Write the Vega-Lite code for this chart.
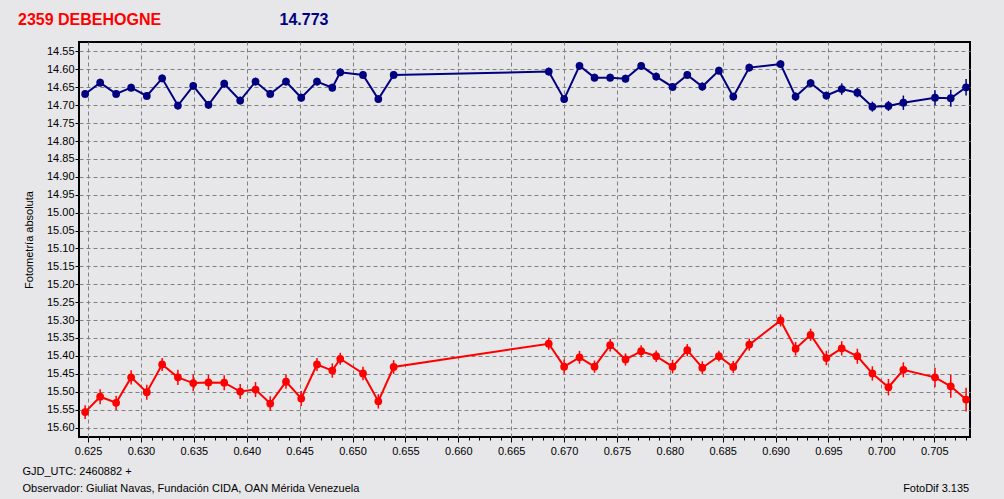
{
  "$schema": "https://vega.github.io/schema/vega-lite/v6.json",
  "width": 891,
  "height": 395,
  "autosize": {"type": "none"},
  "padding": {"left": 79, "top": 42, "right": 34, "bottom": 62},
  "background": "#e7e7e9",
  "config": {
    "view": {"fill": "#e7e7e9", "stroke": "#000000", "strokeWidth": 2},
    "font": "Liberation Sans"
  },
  "title": {
    "text": "2359 DEBEHOGNE",
    "anchor": "start",
    "frame": "group",
    "dx": -61,
    "dy": 16.5,
    "color": "#ff0000",
    "font": "Liberation Sans",
    "fontSize": 16,
    "fontWeight": "bold",
    "offset": 0
  },
  "data": {
    "values": [
      {"t": 0.62472, "m": 14.6685, "e": 0.011, "s": "V"},
      {"t": 0.62614, "m": 14.637, "e": 0.011, "s": "V"},
      {"t": 0.62765, "m": 14.6685, "e": 0.011, "s": "V"},
      {"t": 0.62907, "m": 14.651, "e": 0.011, "s": "V"},
      {"t": 0.63055, "m": 14.674, "e": 0.011, "s": "V"},
      {"t": 0.632, "m": 14.625, "e": 0.011, "s": "V"},
      {"t": 0.63349, "m": 14.701, "e": 0.011, "s": "V"},
      {"t": 0.63494, "m": 14.646, "e": 0.011, "s": "V"},
      {"t": 0.63638, "m": 14.699, "e": 0.011, "s": "V"},
      {"t": 0.63787, "m": 14.64, "e": 0.011, "s": "V"},
      {"t": 0.63938, "m": 14.687, "e": 0.011, "s": "V"},
      {"t": 0.64083, "m": 14.634, "e": 0.011, "s": "V"},
      {"t": 0.64222, "m": 14.6685, "e": 0.011, "s": "V"},
      {"t": 0.64371, "m": 14.634, "e": 0.011, "s": "V"},
      {"t": 0.64515, "m": 14.679, "e": 0.011, "s": "V"},
      {"t": 0.64664, "m": 14.634, "e": 0.011, "s": "V"},
      {"t": 0.64809, "m": 14.651, "e": 0.011, "s": "V"},
      {"t": 0.64884, "m": 14.608, "e": 0.011, "s": "V"},
      {"t": 0.65099, "m": 14.6155, "e": 0.011, "s": "V"},
      {"t": 0.65244, "m": 14.683, "e": 0.011, "s": "V"},
      {"t": 0.65389, "m": 14.6155, "e": 0.011, "s": "V"},
      {"t": 0.66855, "m": 14.606, "e": 0.011, "s": "V"},
      {"t": 0.67001, "m": 14.683, "e": 0.011, "s": "V"},
      {"t": 0.67146, "m": 14.59, "e": 0.011, "s": "V"},
      {"t": 0.67288, "m": 14.623, "e": 0.011, "s": "V"},
      {"t": 0.67436, "m": 14.623, "e": 0.011, "s": "V"},
      {"t": 0.67581, "m": 14.626, "e": 0.011, "s": "V"},
      {"t": 0.67729, "m": 14.59, "e": 0.011, "s": "V"},
      {"t": 0.67871, "m": 14.62, "e": 0.011, "s": "V"},
      {"t": 0.68026, "m": 14.649, "e": 0.011, "s": "V"},
      {"t": 0.68165, "m": 14.6155, "e": 0.011, "s": "V"},
      {"t": 0.68307, "m": 14.648, "e": 0.012, "s": "V"},
      {"t": 0.68464, "m": 14.6035, "e": 0.011, "s": "V"},
      {"t": 0.686, "m": 14.676, "e": 0.011, "s": "V"},
      {"t": 0.68751, "m": 14.595, "e": 0.011, "s": "V"},
      {"t": 0.69047, "m": 14.585, "e": 0.011, "s": "V"},
      {"t": 0.69189, "m": 14.676, "e": 0.012, "s": "V"},
      {"t": 0.69331, "m": 14.638, "e": 0.011, "s": "V"},
      {"t": 0.6948, "m": 14.673, "e": 0.011, "s": "V"},
      {"t": 0.69625, "m": 14.655, "e": 0.016, "s": "V"},
      {"t": 0.69773, "m": 14.665, "e": 0.013, "s": "V"},
      {"t": 0.69915, "m": 14.704, "e": 0.014, "s": "V"},
      {"t": 0.70067, "m": 14.702, "e": 0.014, "s": "V"},
      {"t": 0.70208, "m": 14.693, "e": 0.02, "s": "V"},
      {"t": 0.70507, "m": 14.679, "e": 0.021, "s": "V"},
      {"t": 0.70656, "m": 14.6805, "e": 0.024, "s": "V"},
      {"t": 0.70801, "m": 14.65, "e": 0.023, "s": "V"},
      {"t": 0.62472, "m": 15.557, "e": 0.019, "s": "C"},
      {"t": 0.62614, "m": 15.514, "e": 0.021, "s": "C"},
      {"t": 0.62765, "m": 15.531, "e": 0.02, "s": "C"},
      {"t": 0.62907, "m": 15.46, "e": 0.02, "s": "C"},
      {"t": 0.63055, "m": 15.5015, "e": 0.021, "s": "C"},
      {"t": 0.632, "m": 15.424, "e": 0.018, "s": "C"},
      {"t": 0.63349, "m": 15.46, "e": 0.021, "s": "C"},
      {"t": 0.63494, "m": 15.476, "e": 0.023, "s": "C"},
      {"t": 0.63638, "m": 15.474, "e": 0.021, "s": "C"},
      {"t": 0.63787, "m": 15.475, "e": 0.021, "s": "C"},
      {"t": 0.63938, "m": 15.4995, "e": 0.021, "s": "C"},
      {"t": 0.64083, "m": 15.494, "e": 0.021, "s": "C"},
      {"t": 0.64222, "m": 15.533, "e": 0.02, "s": "C"},
      {"t": 0.64371, "m": 15.472, "e": 0.02, "s": "C"},
      {"t": 0.64515, "m": 15.519, "e": 0.021, "s": "C"},
      {"t": 0.64664, "m": 15.424, "e": 0.018, "s": "C"},
      {"t": 0.64809, "m": 15.441, "e": 0.02, "s": "C"},
      {"t": 0.64884, "m": 15.408, "e": 0.017, "s": "C"},
      {"t": 0.65099, "m": 15.449, "e": 0.019, "s": "C"},
      {"t": 0.65244, "m": 15.527, "e": 0.02, "s": "C"},
      {"t": 0.65389, "m": 15.431, "e": 0.019, "s": "C"},
      {"t": 0.66855, "m": 15.366, "e": 0.017, "s": "C"},
      {"t": 0.67001, "m": 15.43, "e": 0.02, "s": "C"},
      {"t": 0.67146, "m": 15.404, "e": 0.018, "s": "C"},
      {"t": 0.67288, "m": 15.43, "e": 0.017, "s": "C"},
      {"t": 0.67436, "m": 15.37, "e": 0.018, "s": "C"},
      {"t": 0.67581, "m": 15.41, "e": 0.017, "s": "C"},
      {"t": 0.67729, "m": 15.387, "e": 0.017, "s": "C"},
      {"t": 0.67871, "m": 15.401, "e": 0.016, "s": "C"},
      {"t": 0.68026, "m": 15.43, "e": 0.019, "s": "C"},
      {"t": 0.68165, "m": 15.384, "e": 0.017, "s": "C"},
      {"t": 0.68307, "m": 15.433, "e": 0.018, "s": "C"},
      {"t": 0.68464, "m": 15.401, "e": 0.015, "s": "C"},
      {"t": 0.686, "m": 15.431, "e": 0.017, "s": "C"},
      {"t": 0.68751, "m": 15.3685, "e": 0.017, "s": "C"},
      {"t": 0.69047, "m": 15.301, "e": 0.017, "s": "C"},
      {"t": 0.69189, "m": 15.38, "e": 0.019, "s": "C"},
      {"t": 0.69331, "m": 15.341, "e": 0.017, "s": "C"},
      {"t": 0.6948, "m": 15.406, "e": 0.02, "s": "C"},
      {"t": 0.69625, "m": 15.379, "e": 0.02, "s": "C"},
      {"t": 0.69773, "m": 15.401, "e": 0.021, "s": "C"},
      {"t": 0.69915, "m": 15.449, "e": 0.02, "s": "C"},
      {"t": 0.70067, "m": 15.4875, "e": 0.023, "s": "C"},
      {"t": 0.70208, "m": 15.439, "e": 0.021, "s": "C"},
      {"t": 0.70507, "m": 15.46, "e": 0.027, "s": "C"},
      {"t": 0.70656, "m": 15.485, "e": 0.032, "s": "C"},
      {"t": 0.70801, "m": 15.522, "e": 0.033, "s": "C"}
    ]
  },
  "resolve": {"axis": {"x": "independent", "y": "independent"}},
  "layer": [
    {
      "encoding": {
        "x": {
          "field": "t",
          "type": "quantitative",
          "scale": {"domain": [0.62414, 0.70838], "nice": false, "zero": false},
          "axis": {
            "orient": "bottom",
            "values": [0.625,0.626,0.627,0.628,0.629,0.63,0.631,0.632,0.633,0.634,0.635,0.636,0.637,0.638,0.639,0.64,0.641,0.642,0.643,0.644,0.645,0.646,0.647,0.648,0.649,0.65,0.651,0.652,0.653,0.654,0.655,0.656,0.657,0.658,0.659,0.66,0.661,0.662,0.663,0.664,0.665,0.666,0.667,0.668,0.669,0.67,0.671,0.672,0.673,0.674,0.675,0.676,0.677,0.678,0.679,0.68,0.681,0.682,0.683,0.684,0.685,0.686,0.687,0.688,0.689,0.69,0.691,0.692,0.693,0.694,0.695,0.696,0.697,0.698,0.699,0.7,0.701,0.702,0.703,0.704,0.705,0.706,0.707,0.708],
            "labelExpr": "round(datum.value*1000) % 5 == 0 ? format(datum.value, '.3f') : ''",
            "labelOverlap": false,
            "labelFlush": false,
            "labelFont": "Liberation Sans",
            "labelFontSize": 11,
            "labelColor": "#000000",
            "labelPadding": 3,
            "tickColor": "#000000",
            "tickWidth": 1,
            "tickSize": {"condition": {"test": "round(datum.value*1000) % 5 == 0", "value": 5}, "value": 3},
            "grid": true,
            "gridColor": "#808080",
            "gridDash": [4, 3],
            "gridWidth": 1,
            "gridOpacity": {"condition": {"test": "round(datum.value*1000) % 5 == 0", "value": 1}, "value": 0},
            "domain": false,
            "title": ["GJD_UTC: 2460882 +", "Observador: Giuliat Navas, Fundación CIDA, OAN Mérida Venezuela"],
            "titleX": -57,
            "titleY": 37,
            "titleAlign": "left",
            "titleAnchor": "start",
            "titleBaseline": "alphabetic",
            "titleAngle": 0,
            "titleFont": "Liberation Sans",
            "titleFontSize": 11,
            "titleFontWeight": "normal",
            "titleColor": "#000000",
            "titleLineHeight": 17.5
          }
        },
        "y": {
          "field": "m",
          "type": "quantitative",
          "scale": {"domain": [14.5235, 15.6265], "reverse": true, "nice": false, "zero": false},
          "axis": {
            "orient": "left",
            "values": [14.55,14.6,14.65,14.7,14.75,14.8,14.85,14.9,14.95,15.0,15.05,15.1,15.15,15.2,15.25,15.3,15.35,15.4,15.45,15.5,15.55,15.6],
            "format": ".2f",
            "labelOverlap": false,
            "labelFlush": false,
            "labelFont": "Liberation Sans",
            "labelFontSize": 11,
            "labelColor": "#000000",
            "labelPadding": 1,
            "tickColor": "#000000",
            "tickSize": 4,
            "grid": true,
            "gridColor": "#808080",
            "gridDash": [4, 3],
            "gridWidth": 1,
            "domain": false,
            "title": "Fotometría absoluta",
            "titleX": -46.5,
            "titleY": 197.5,
            "titleAngle": -90,
            "titleAlign": "center",
            "titleBaseline": "alphabetic",
            "titleFont": "Liberation Sans",
            "titleFontSize": 11,
            "titleFontWeight": "normal",
            "titleColor": "#000000"
          }
        },
        "color": {
          "field": "s",
          "type": "nominal",
          "scale": {"domain": ["V", "C"], "range": ["#000080", "#ff0000"]},
          "legend": null
        }
      },
      "layer": [
        {"mark": {"type": "line", "strokeWidth": 2}},
        {"mark": {"type": "errorbar", "thickness": 1.5}, "encoding": {"yError": {"field": "e"}}},
        {"mark": {"type": "point", "shape": "circle", "filled": true, "size": 60, "opacity": 1}}
      ]
    },
    {
      "mark": {"type": "point", "opacity": 0},
      "encoding": {
        "x": {
          "field": "t",
          "type": "quantitative",
          "axis": {
            "orient": "top",
            "labels": false,
            "ticks": false,
            "domain": false,
            "grid": false,
            "title": "14.773",
            "titleX": 200,
            "titleY": -17.5,
            "titleAlign": "left",
            "titleBaseline": "alphabetic",
            "titleAngle": 0,
            "titleFont": "Liberation Sans",
            "titleFontSize": 16,
            "titleFontWeight": "bold",
            "titleColor": "#000080"
          }
        },
        "y": {
          "field": "m",
          "type": "quantitative",
          "axis": {
            "orient": "right",
            "labels": false,
            "ticks": false,
            "domain": false,
            "grid": false,
            "title": "FotoDif 3.135",
            "titleX": -1.3,
            "titleY": 449.5,
            "titleAlign": "right",
            "titleBaseline": "alphabetic",
            "titleAngle": 0,
            "titleFont": "Liberation Sans",
            "titleFontSize": 11,
            "titleFontWeight": "normal",
            "titleColor": "#000000"
          }
        }
      }
    }
  ]
}
